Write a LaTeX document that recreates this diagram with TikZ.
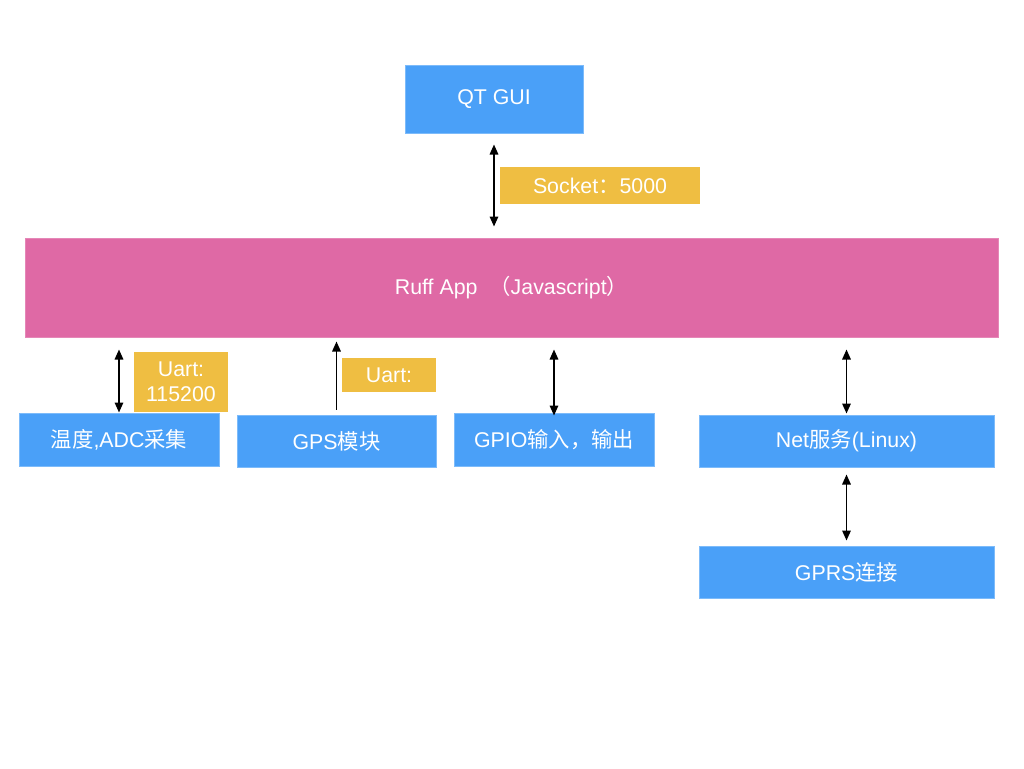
\documentclass[tikz,border=0pt]{standalone}
\usepackage{fontspec}
\setmainfont{Liberation Sans}
\newfontfamily\cjk{Noto Sans CJK SC}
\usetikzlibrary{arrows.meta}
\definecolor{boxblue}{HTML}{4AA0F8}
\definecolor{boxedge}{HTML}{7DBBFA}
\definecolor{lblyellow}{HTML}{EFBE42}
\definecolor{ruffpink}{HTML}{DF69A5}
\def\px{0.75pt}
\tikzset{
  txt/.style={text=white, font=\fontsize{16}{19}\selectfont},
  blue box/.style={txt, fill=boxblue, draw=boxedge, line width=1*\px, inner sep=0pt},
  label box/.style={txt, fill=lblyellow, inner sep=0pt, align=center},
  pink box/.style={txt, fill=ruffpink, draw=ruffpink!80!white, line width=1*\px, inner sep=0pt},
  link/.style={line width=1.6*\px, black, arrows={-Triangle[length=10*\px, width=8.5*\px]}},
  dlink/.style={line width=1.6*\px, black, arrows={Triangle[length=10*\px, width=8.5*\px]-Triangle[length=10*\px, width=8.5*\px]}}
}
\begin{document}
\begin{tikzpicture}[x=0.75pt, y=-0.75pt]
\useasboundingbox (0,0) rectangle (1024,768);
\fill[white] (0,0) rectangle (1024,768);
\node[blue box, minimum width=178*\px, minimum height=68*\px] (qt) at (494,99) {QT GUI};
\node[pink box, minimum width=973*\px, minimum height=99*\px] (ruff) at (511.5,287.5) {Ruff App\ \ {\cjk （}Javascript{\cjk ）}};
\node[label box, minimum width=200*\px, minimum height=37*\px] (sock) at (600,185.5) {Socket{\cjk ：}5000};
\node[blue box, minimum width=200*\px, minimum height=53*\px] (adc) at (119,439.5) {{\cjk 温度}{,}ADC{\cjk 采集}};
\node[blue box, minimum width=199*\px, minimum height=52*\px] (gps) at (336.5,441) {GPS{\cjk 模块}};
\node[blue box, minimum width=200*\px, minimum height=53*\px] (gpio) at (554,439.5) {GPIO{\cjk 输入，输出}};
\node[blue box, minimum width=295*\px, minimum height=52*\px] (net) at (846.5,441) {Net{\cjk 服务}(Linux)};
\node[blue box, minimum width=295*\px, minimum height=52*\px] (gprs) at (846.5,572) {GPRS{\cjk 连接}};
\node[label box, minimum width=94*\px, minimum height=60*\px] (u1) at (181,382) {Uart:\\115200};
\node[label box, minimum width=94*\px, minimum height=34*\px] (u2) at (389,375) {Uart:};
\draw[dlink, shorten <=11*\px, shorten >=11*\px] (qt.south) -- (qt.south |- ruff.north);
\draw[dlink, shorten <=12*\px, shorten >=0*\px] (adc.north |- ruff.south) -- (adc.north);
\draw[link, shorten <=5*\px, shorten >=4*\px] (gps.north) -- (gps.north |- ruff.south);
\draw[dlink, shorten <=12*\px, shorten >=-3*\px] (gpio.north |- ruff.south) -- (gpio.north);
\draw[dlink, shorten <=12*\px, shorten >=1*\px] (net.north |- ruff.south) -- (net.north);
\draw[dlink, shorten <=7*\px, shorten >=5*\px] (net.south) -- (gprs.north);
\end{tikzpicture}
\end{document}
